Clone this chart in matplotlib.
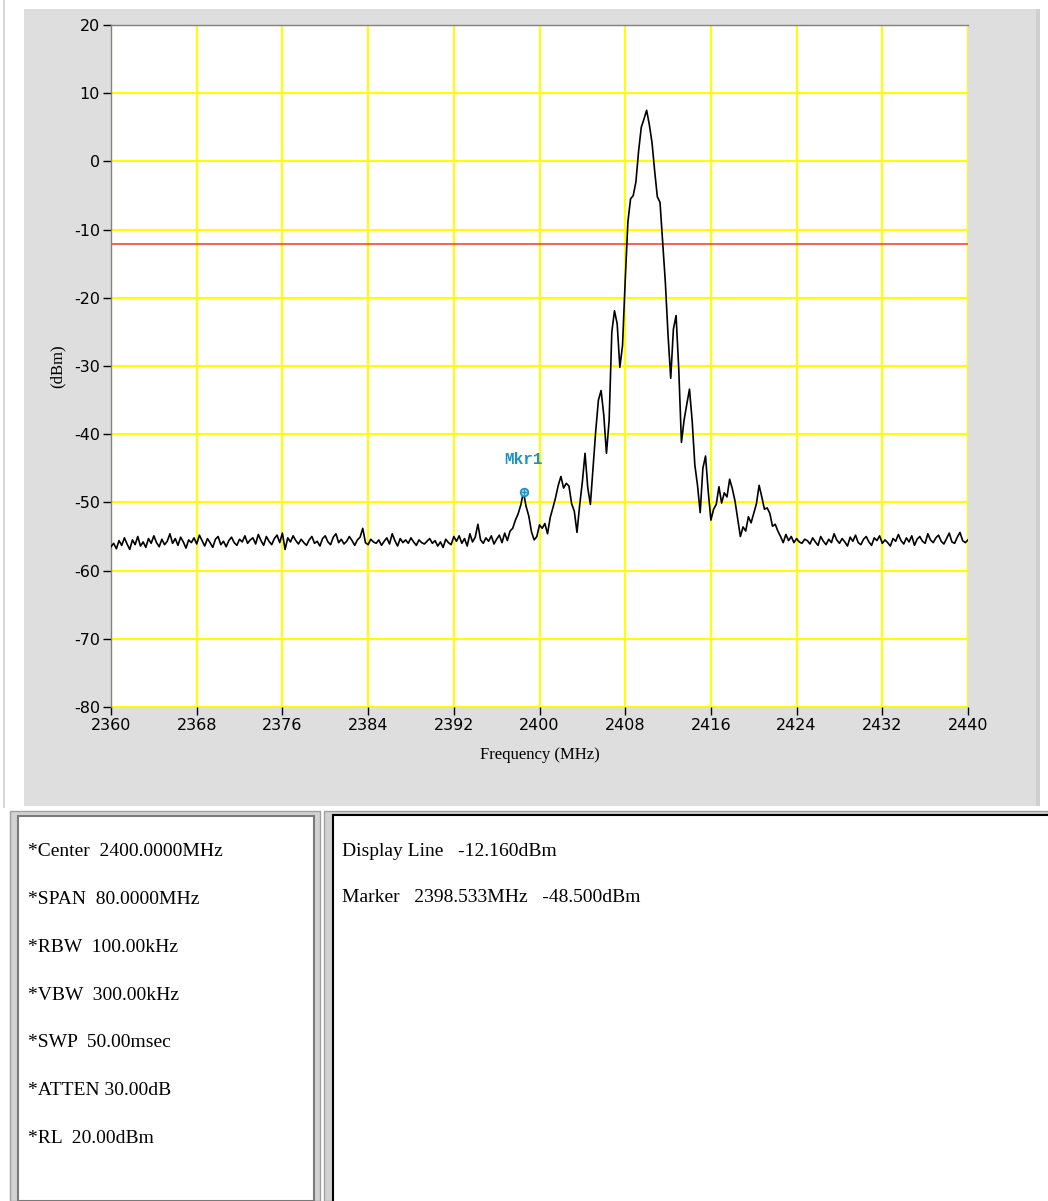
import numpy as np
import matplotlib

matplotlib.use("Agg")
import matplotlib.pyplot as plt
from matplotlib.patches import Rectangle

plt.rcParams['axes.unicode_minus'] = False

W, H = 1048, 1201

# ---- data: analyzer trace, 321 sweep points from 2360 to 2440 MHz ----
f_start, f_stop = 2360, 2440
noise_left = [
    -56.5, -56.0, -56.8, -55.6, -56.3, -55.2, -56.1, -56.9, -55.5, -56.2, -55.0, -56.4, -55.8, -56.6, -55.3, -56.0,
    -54.9, -55.9, -56.5, -55.4, -56.2, -55.7, -54.6, -56.0, -55.3, -56.3, -55.1, -55.8, -56.7, -55.5, -55.9, -55.2,
    -56.1, -54.8, -55.6, -56.4, -55.3, -55.9, -56.6, -55.4, -55.0, -56.2, -55.7, -56.5, -55.6, -55.1, -55.9, -56.3,
    -55.4, -55.8, -54.9, -56.0, -55.5, -55.2, -56.1, -54.7, -55.6, -56.3, -55.0, -55.7, -56.2, -55.3, -54.8, -55.9,
    -54.5, -56.9, -55.2, -55.8, -54.9, -55.6, -56.1, -55.4, -55.9, -56.3, -55.5, -55.0, -56.0, -55.7, -56.4, -55.3,
    -54.9, -55.8, -56.2, -55.1, -54.6, -55.9, -55.4, -56.1, -55.7, -55.0, -55.6, -56.3, -55.5, -55.1, -53.8, -55.9,
    -56.2, -55.4, -55.8, -56.0, -55.5, -56.3, -55.7, -55.2, -56.1, -54.6, -55.6, -56.4, -55.3, -55.9, -55.5, -56.0,
    -55.2, -55.8, -56.3, -55.5, -55.9, -56.1, -55.7, -55.3, -56.0, -55.6, -56.4, -55.8, -56.6, -55.4, -55.9, -56.2,
    -55.0, -55.7, -54.9, -56.0, -55.3, -56.4, -54.6, -55.8, -55.1, -53.2, -55.5, -56.0, -55.2, -55.7, -54.9, -56.1,
    -55.4, -54.8, -55.9, -54.5,
]
peak_region = [
    -55.6, -54.2, -53.8, -52.6, -51.7, -50.4, -48.5, -50.6, -52.0, -54.3, -55.5, -55.0,   # 2397.00 - 2399.75
    -53.3, -53.8, -53.1, -54.6, -52.2, -50.8, -49.3, -47.5, -46.2, -47.9, -47.2, -47.6,   # 2400.00 - 2402.75
    -50.2, -51.3, -54.4, -50.4, -47.0, -42.8, -47.8, -50.3, -44.8, -39.5, -35.0, -33.6,   # 2403.00 - 2405.75
    -37.2, -42.8, -38.0, -25.0, -21.9, -23.8, -30.2, -27.0, -17.5, -8.9, -5.5, -5.0,      # 2406.00 - 2408.75
    -3.0, 1.5, 5.0, 6.2, 7.5, 5.4, 2.8, -1.4, -5.2, -6.0, -12.0, -17.8,                   # 2409.00 - 2411.75
    -25.5, -31.8, -24.6, -22.6, -30.5, -41.2, -37.9, -35.6, -33.4, -38.0, -44.5, -47.5,   # 2412.00 - 2414.75
    -51.5, -45.0, -43.2, -48.4, -52.6, -51.0, -50.3, -47.7, -50.1, -48.6, -49.2, -46.6,   # 2415.00 - 2417.75
    -48.0, -49.8, -52.4, -55.0, -53.6, -54.2, -52.1, -53.0, -51.6, -50.2, -47.5, -49.2,   # 2418.00 - 2420.75
    -51.0, -50.8, -51.6, -53.5, -53.2, -54.2, -55.0, -55.9, -54.7, -55.6, -55.0, -55.9,   # 2421.00 - 2423.75
    -55.3, -55.8, -56.0, -55.4,                                                           # 2424.00 - 2424.75
]
noise_right = [
    -55.6, -56.1, -55.2, -55.8, -56.3, -55.0, -55.7, -56.2, -55.4, -55.9, -54.6, -55.5, -56.0, -55.3, -55.8, -56.4,
    -55.1, -55.7, -54.8, -55.9, -56.2, -55.4, -55.0, -55.8, -56.3, -55.2, -55.6, -54.9, -56.0, -55.5, -55.9, -56.4,
    -55.3, -55.7, -54.7, -55.6, -56.1, -55.2, -55.8, -54.9, -56.3, -55.4, -55.0, -55.7, -56.0, -54.6, -55.5, -55.9,
    -55.2, -54.8, -55.7, -56.1, -55.3, -54.5, -55.8, -56.0, -55.1, -54.4, -55.6, -55.9, -55.5,
]
level = np.array(noise_left + peak_region + noise_right)
freq = np.linspace(f_start, f_stop, len(level))

display_line = -12.16
marker_freq = 2398.533
marker_level = -48.5

x_ticks = list(range(2360, 2441, 8))
y_ticks = list(range(-80, 21, 10))

left_info = ["*Center  2400.0000MHz", "*SPAN  80.0000MHz", "*RBW  100.00kHz", "*VBW  300.00kHz",
             "*SWP  50.00msec", "*ATTEN 30.00dB", "*RL  20.00dBm"]
right_info = ["Display Line   -12.160dBm", "Marker   2398.533MHz   -48.500dBm"]


def fx(x):
    return x / W


def fy(y):
    return 1 - y / H


def box(fig, x0, y0, x1, y1, **kw):
    fig.patches.append(Rectangle((fx(x0), fy(y1)), fx(x1) - fx(x0), fy(y0) - fy(y1),
                                 transform=fig.transFigure, zorder=-10, **kw))


fig = plt.figure(figsize=(W / 100, H / 100), dpi=100)
fig.patch.set_facecolor('white')

# window chrome
box(fig, 3, 0, 4.5, 808, facecolor='#d8d8d8', edgecolor='none')
box(fig, 24, 9, 1040, 806, facecolor='#dedede', edgecolor='none')
box(fig, 1036, 9, 1040, 806, facecolor='#d0d0d0', edgecolor='none')
box(fig, 10, 811, 320, 1201, facecolor='#d2d2d2', edgecolor='#a0a0a0', lw=1)
box(fig, 18, 816, 314, 1201, facecolor='white', edgecolor='#7a7a7a', lw=1.5)
box(fig, 324, 811, 1048, 1201, facecolor='#d2d2d2', edgecolor='#a0a0a0', lw=1)
box(fig, 333, 815, 1050, 1203, facecolor='white', edgecolor='black', lw=1.5)

ax = fig.add_axes([fx(111), fy(707), fx(968) - fx(111), fy(25) - fy(707)])
ax.set_zorder(5)
ax.set_facecolor('white')
ax.plot(freq, level, color='black', lw=1.2, zorder=3)
ax.axhline(display_line, color='#f03a2e', lw=1.1, zorder=2)
ax.plot(marker_freq, marker_level, marker='o', ms=5.5, mfc='#bfe6f2', mec='#1a94c0', mew=1.3, zorder=4)
ax.plot(marker_freq, marker_level, marker='+', ms=4.5, color='#1a94c0', mew=1, zorder=5)
ax.text(marker_freq - 0.05, marker_level + 3.7, 'Mkr1', color='#1a94c0', fontsize=11.5, fontweight='bold',
        family='Liberation Mono', ha='center', va='bottom', zorder=5)

ax.set_xlim(f_start, f_stop)
ax.set_ylim(-80, 20)
ax.set_xticks(x_ticks)
ax.set_yticks(y_ticks)
ax.grid(True, color='#ffff00', lw=1.5, zorder=1)
ax.set_axisbelow(True)
for s in ['right', 'bottom']:
    ax.spines[s].set_visible(False)
for s in ['left', 'top']:
    ax.spines[s].set_color('#808080')
    ax.spines[s].set_linewidth(1)
ax.tick_params(direction='out', length=6, width=1, color='black', labelsize=11.5, pad=2)
for lab in ax.get_xticklabels() + ax.get_yticklabels():
    lab.set_family('DejaVu Sans')

ax.set_xlabel('Frequency (MHz)', family='Liberation Serif', fontsize=12, labelpad=10)
ax.set_ylabel('(dBm)', family='Liberation Serif', fontsize=12, labelpad=6)

# info boxes
for i, t in enumerate(left_info):
    fig.text(fx(28), fy(852 + 47.7 * i), t, family='Liberation Serif', fontsize=14, va='center', ha='left')
for i, t in enumerate(right_info):
    fig.text(fx(342), fy(852 + 46 * i), t, family='Liberation Serif', fontsize=14, va='center', ha='left')

plt.savefig('out.png', dpi=100)
